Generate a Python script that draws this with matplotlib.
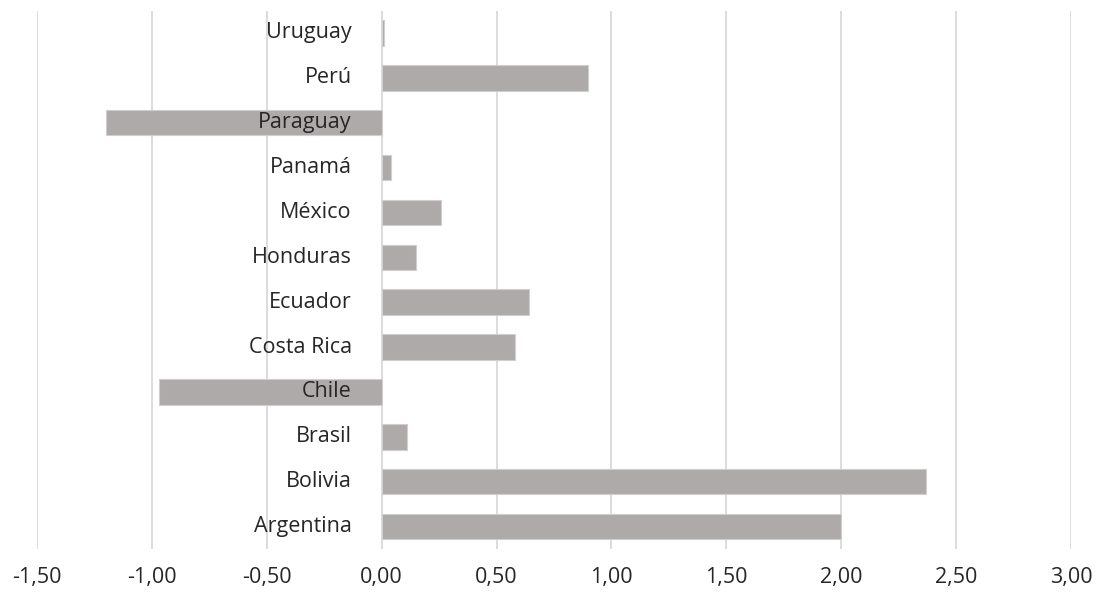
import matplotlib
matplotlib.use("Agg")
import matplotlib.pyplot as plt
from matplotlib.ticker import FuncFormatter, MultipleLocator
import matplotlib.transforms as mtransforms

countries = ["Argentina", "Bolivia", "Brasil", "Chile", "Costa Rica", "Ecuador",
             "Honduras", "México", "Panamá", "Paraguay", "Perú", "Uruguay"]
values = [2.00, 2.37, 0.11, -0.97, 0.58, 0.64, 0.15, 0.26, 0.04, -1.20, 0.90, 0.01]

plt.rcParams['font.family'] = ['Open Sans', 'DejaVu Sans']

fig = plt.figure(figsize=(10.99, 5.97), dpi=100)
ax = fig.add_axes([0.0337, 0.0804, 0.9408, 0.902])

y = list(range(len(countries)))
ax.barh(y, values, height=0.57, color='#aeaaaa', edgecolor='#d0cece', linewidth=0.8, zorder=3)

ax.set_xlim(-1.5, 3.0)
ax.set_ylim(-0.5, len(countries) - 0.5)
ax.xaxis.set_major_locator(MultipleLocator(0.5))
ax.xaxis.set_major_formatter(FuncFormatter(lambda v, p: f"{v:.2f}".replace('.', ',')))
ax.grid(axis='x', color='#d9d9d9', linewidth=1.3, zorder=0)
ax.set_yticks([])
for s in ax.spines.values():
    s.set_visible(False)
ax.tick_params(axis='x', length=0, pad=13, labelsize=15.5, labelcolor='#262626')

offset = mtransforms.offset_copy(ax.transData, fig=fig, x=-30, y=0, units='dots')
for yi, name in zip(y, countries):
    ax.text(0, yi, name, transform=offset, ha='right', va='center',
            fontsize=15.5, color='#262626', zorder=4)

fig.savefig("out.png", dpi=100)
